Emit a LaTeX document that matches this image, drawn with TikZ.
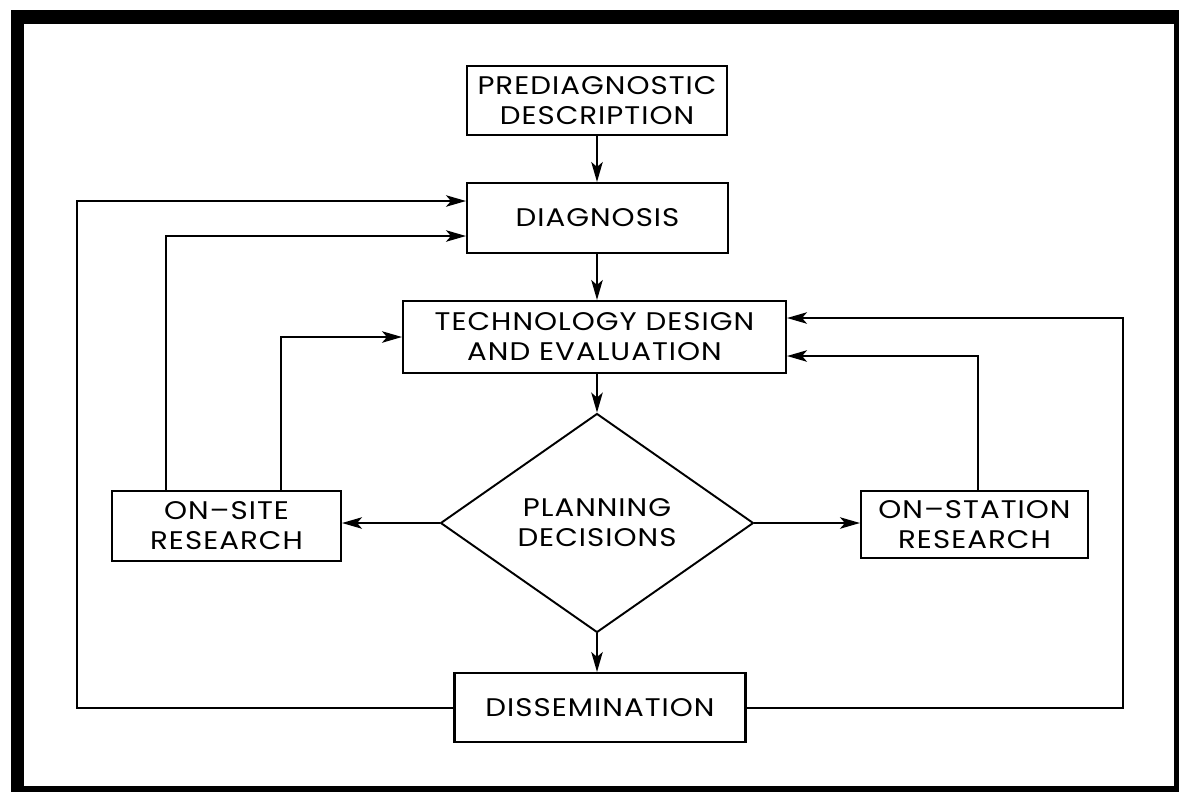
\documentclass[tikz,border=0pt]{standalone}
\usepackage{fontspec}
\setmainfont{Poppins}[FakeStretch=1.15, LetterSpace=4]
\usetikzlibrary{shapes.geometric,arrows.meta}

\begin{document}
\begin{tikzpicture}[x=0.02cm, y=-0.02cm, font=\fontsize{14.5}{17}\selectfont]
            \tikzset{stagebox/.style={rectangle, draw=black, line width=1.2pt, inner sep=0pt, align=center, text centered},
                decision/.style={diamond, draw=black, line width=1.1pt, inner sep=0pt, align=center,
                    minimum width=6.26cm, minimum height=4.38cm},
                fb/.style={line width=1pt, arrows={-Stealth[length=4mm, width=2.3mm, inset=1mm]}},
                link/.style={line width=1pt}}

        \useasboundingbox (0,0) rectangle (1179,792);
        % frame
        \fill[black] (11,10) rectangle (1179,792);
        \fill[white] (24,24) rectangle (1174,786);

        \node[stagebox, minimum width=5.2cm, minimum height=1.38cm] (pre) at (597,100.5) {PREDIAGNOSTIC \\ DESCRIPTION};
        \node[stagebox, minimum width=5.22cm, minimum height=1.4cm] (diag) at (597.5,218) {DIAGNOSIS};
        \node[stagebox, minimum width=7.66cm, minimum height=1.44cm] (tech) at (594.5,337) {TECHNOLOGY DESIGN \\ AND EVALUATION};
        \node[decision] (plan) at (597,523) {PLANNING \\ DECISIONS};
        \node[stagebox, minimum width=4.58cm, minimum height=1.4cm] (site) at (226.5,526) {ON--SITE \\ RESEARCH};
        \node[stagebox, minimum width=4.54cm, minimum height=1.34cm] (station) at (974.5,524.5) {ON--STATION \\ RESEARCH};
        \node[stagebox, minimum width=5.82cm, minimum height=1.38cm] (diss) at (600,707.5) {DISSEMINATION};

        % main line
        \draw[fb] (pre.south -| 597,0) -- (diag.north -| 597,0);
        \draw[fb] (diag.south -| 597,0) -- (tech.north -| 597,0);
        \draw[fb] (tech.south -| 597,0) -- (plan.north);
        \draw[fb] (plan.south) -- (diss.north -| plan.south);
        \draw[fb] (plan.west) -- (plan.west -| site.east);
        \draw[fb] (plan.east) -- (plan.east -| station.west);

        % feedback loops
        \draw[fb] (site.north -| 281,0) |- (tech.west);
        \draw[fb] (site.north -| 166,0) |- (diag.west |- 0,236);
        \draw[fb] (diss.west |- 0,708) -| (77,201) -- (diag.west |- 0,201);
        \draw[fb] (station.north -| 978,0) |- (tech.east |- 0,356);
        \draw[fb] (diss.east |- 0,708) -| (1123,318) -- (tech.east |- 0,318);

        \end{tikzpicture}
\end{document}
